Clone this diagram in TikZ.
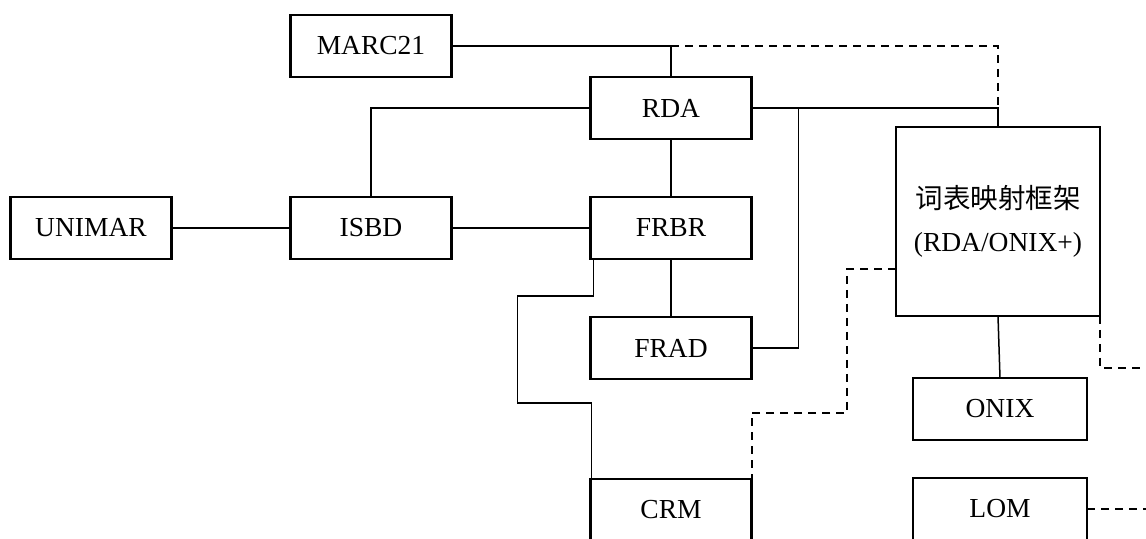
\documentclass[tikz,border=0pt]{standalone}
\usepackage{fontspec}
\setmainfont{Liberation Serif}
\newfontfamily\cjk{Noto Sans CJK SC}
\usetikzlibrary{positioning}

\begin{document}
\begin{tikzpicture}[x=0.5pt,y=-0.5pt,auto]
\clip (0,0) rectangle (1146,539);
\tikzstyle{every path}=[line width=0.75pt];
\tikzstyle{box}=[draw,line width=1.15pt,outer sep=0pt,minimum width=80.5pt,minimum height=31pt,font=\fontsize{13.75pt}{21.5pt}\selectfont];
\tikzstyle{dashline}=[dash pattern=on 4pt off 3pt,line width=1pt];
\node[box] (unimar) at (91,228) {UNIMAR};
\node[box] (isbd) [right=59.5pt of unimar] {ISBD};
\node[box] (frbr) [right=69.5pt of isbd] {FRBR};
\node[box] (rda) [above=29pt of frbr] {RDA};
\node[box] (marc) [above=60pt of isbd] {MARC21};
\node[box] (frad) [below=29pt of frbr] {FRAD};
\node[box] (crm) [below=50pt of frad] {CRM};
\node[box,minimum width=102pt,minimum height=94.5pt,align=center] (frame) at (998,221.5) {{\cjk 词表映射框架}\\(RDA/ONIX+)};
\node[box,minimum width=87pt] (onix) [below=31pt of frame,xshift=1pt] {ONIX};
\node[box,minimum width=87pt] (lom) [below=19pt of onix] {LOM};
\coordinate (rj) at ([xshift=23.5pt]rda.east);
\coordinate (edgeA) at (1146,368);
\coordinate (edgeB) at (lom.east -| edgeA);
\path (unimar) edge [line width=1.15pt] (isbd);
\path (isbd) edge (frbr);
\path (rda) edge (frbr);
\path (frbr) edge (frad);
\draw (isbd.north) |- (rda.west);
\draw (marc.east) -| (rda.north);
\draw (rda.east) -| (frame.north);
\draw (frad.east) -| (rj);
\draw (frame.south) -- (onix.north);
\draw ([xshift=1.5pt]frbr.south west) -- ++(0,37) -- ++(-76,0) -- ++(0,107) -| ([xshift=0.5pt]crm.north west);
\draw[dashline] (rda.north |- marc.east) -| (frame.north |- rda.east);
\draw[dashline] ([yshift=-23.75pt]frame.west) -- ++(-49,0) -- ++(0,144) -| (crm.north east);
\draw[dashline] (frame.south east) |- (edgeA);
\draw[dashline] (lom.east) -- (edgeB);
\end{tikzpicture}
\end{document}
